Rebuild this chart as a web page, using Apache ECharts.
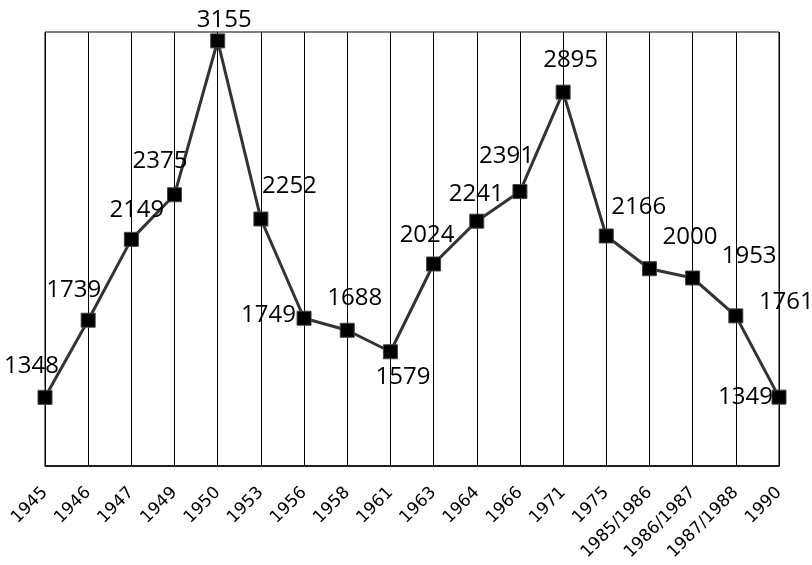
<!DOCTYPE html>
<html>
<head>
<meta charset="utf-8">
<script src="https://cdn.jsdelivr.net/npm/echarts@6/dist/echarts.min.js"></script>
<style>html,body{margin:0;padding:0;background:#fff}#c{width:812px;height:565px}</style>
</head>
<body>
<div id="c"></div>
<script>
const categories = ["1945","1946","1947","1949","1950","1953","1956","1958","1961","1963","1964","1966","1971","1975","1985/1986","1986/1987","1987/1988","1990"];
const values = [1348,1739,2149,2375,3155,2252,1749,1688,1579,2024,2241,2391,2895,2166,2000,1953,1761,1349];
const labelOffsets = [[-13,-31],[-14,-30],[6,-29],[-14,-33],[7,-20],[29,-32],[-35,-3],[8,-32],[13,26],[-6,-28],[0,-27],[-13,-35],[8,-32],[33,-28],[41,-31],[57,-21],[51,-13],[-33,1]];

const SYM = 14;
const chart = echarts.init(document.getElementById('c'));
chart.setOption({
  animation: false,
  backgroundColor: '#fff',
  grid: { left: 45, right: 33, top: 32, bottom: 99, show: true, borderColor: '#000', borderWidth: 1, backgroundColor: 'transparent' },
  xAxis: {
    type: 'category', data: categories, boundaryGap: false,
    axisLine: { lineStyle: { color: '#000', width: 1.5 } },
    axisTick: { show: false },
    splitLine: { show: true, lineStyle: { color: '#000', width: 1 } },
    axisLabel: { rotate: 45, color: '#000', fontFamily: 'DejaVu Sans', fontSize: 17, margin: 24, interval: 0 }
  },
  yAxis: { type: 'value', min: 1000, max: 3200, show: false, splitLine: { show: false } },
  series: [{
    type: 'line',
    data: values.map((v, i) => ({ value: v, label: { position: [SYM / 2 + labelOffsets[i][0], SYM / 2 + labelOffsets[i][1]] } })),
    symbol: 'rect', symbolSize: SYM,
    itemStyle: { color: '#000', borderColor: '#444', borderWidth: 1 },
    lineStyle: { color: '#333', width: 3 },
    label: { show: true, color: '#000', fontFamily: 'Open Sans', fontSize: 24, align: 'center', verticalAlign: 'middle' },
    labelLayout: { hideOverlap: false },
    clip: false
  }]
});
</script>
</body>
</html>
